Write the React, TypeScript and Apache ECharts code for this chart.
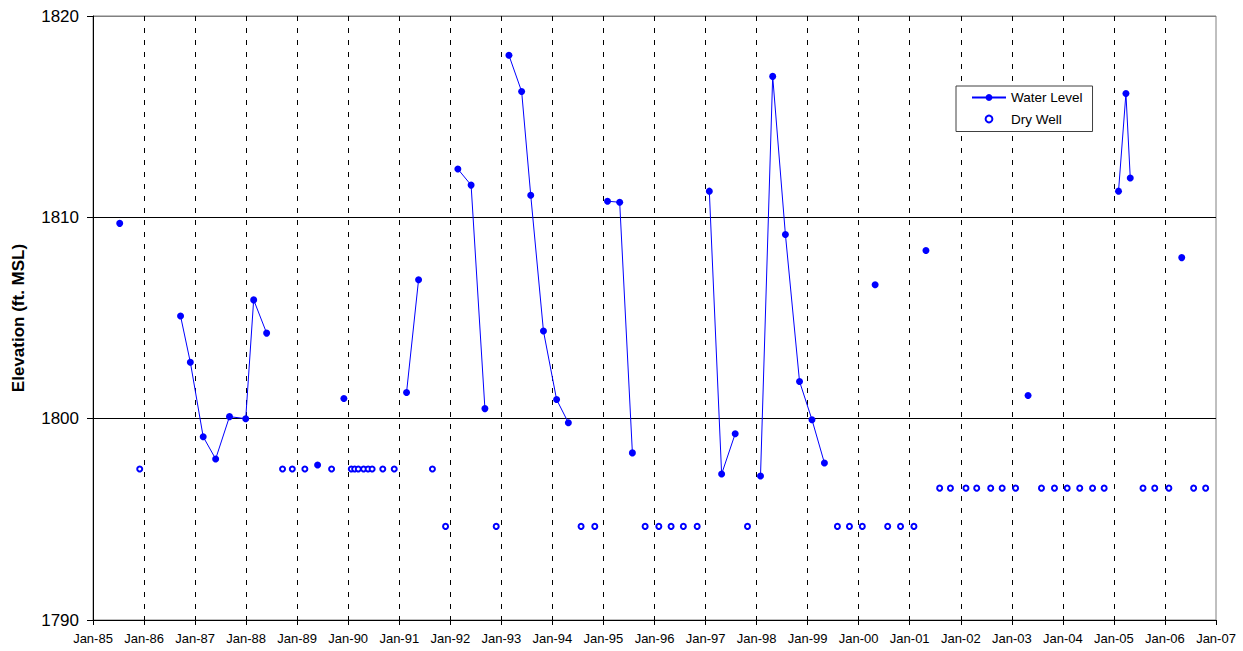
import React, { useEffect, useRef } from "react";
import * as echarts from "echarts";

// Sampling dates (YYYY-MM-DD)
const sampleDates: string[] = [
  "1985-07-11", "1985-12-01", "1986-09-19", "1986-11-28", "1987-02-28", "1987-05-28",
  "1987-09-04", "1987-12-29", "1988-02-24", "1988-05-27", "1988-09-18", "1988-11-27",
  "1989-02-25", "1989-05-27", "1989-09-04", "1989-12-01", "1990-01-23", "1990-02-16",
  "1990-03-14", "1990-04-21", "1990-05-23", "1990-06-21", "1990-09-05", "1990-11-26",
  "1991-02-22", "1991-05-19", "1991-08-26", "1991-11-28", "1992-02-24", "1992-05-29",
  "1992-09-05", "1992-11-25", "1993-02-24", "1993-05-26", "1993-07-30", "1993-10-29",
  "1994-01-31", "1994-04-25", "1994-07-25", "1994-10-31", "1995-01-30", "1995-04-27",
  "1995-07-27", "1995-10-26", "1996-02-01", "1996-04-29", "1996-07-26", "1996-11-02",
  "1997-01-28", "1997-04-26", "1997-08-01", "1997-10-28", "1998-01-29", "1998-04-26",
  "1998-07-26", "1998-11-04", "1999-02-01", "1999-05-01", "1999-08-02", "1999-10-27",
  "2000-01-27", "2000-04-28", "2000-07-27", "2000-10-27", "2001-01-31", "2001-04-27",
  "2001-08-03", "2001-10-19", "2002-02-07", "2002-04-25", "2002-08-03", "2002-10-24",
  "2003-01-28", "2003-04-27", "2003-08-01", "2003-11-02", "2004-02-01", "2004-05-01",
  "2004-08-01", "2004-10-23", "2005-02-03", "2005-03-28", "2005-04-28", "2005-07-28",
  "2005-10-20", "2006-01-29", "2006-05-01", "2006-07-25", "2006-10-19",
];

// Water level elevation (ft. MSL); null where the well was dry
const waterLevel: (number | null)[] = [
  1809.7, null, 1805.1, 1802.8, 1799.1, 1798.0,
  1800.1, 1800.0, 1805.9, 1804.25, null, null,
  null, 1797.7, null, 1801.0, null, null,
  null, null, null, null, null, null,
  1801.3, 1806.9, null, null, 1812.4, 1811.6,
  1800.5, null, 1818.05, 1816.25, 1811.1, 1804.35,
  1800.95, 1799.8, null, null, 1810.8, 1810.75,
  1798.3, null, null, null, null, null,
  1811.3, 1797.25, 1799.25, null, 1797.15, 1817.0,
  1809.15, 1801.85, 1799.95, 1797.8, null, null,
  null, 1806.65, null, null, null, 1808.35,
  null, null, null, null, null, null,
  null, 1801.15, null, null, null, null,
  null, null, 1811.3, 1816.15, 1811.95, null,
  null, null, 1808.0, null, null,
];

// Dry well marker elevation (ft. MSL); null where water was measured
const dryWell: (number | null)[] = [
  null, 1797.5, null, null, null, null,
  null, null, null, null, 1797.5, 1797.5,
  1797.5, null, 1797.5, null, 1797.5, 1797.5,
  1797.5, 1797.5, 1797.5, 1797.5, 1797.5, 1797.5,
  null, null, 1797.5, 1794.65, null, null,
  null, 1794.65, null, null, null, null,
  null, null, 1794.65, 1794.65, null, null,
  null, 1794.65, 1794.65, 1794.65, 1794.65, 1794.65,
  null, null, null, 1794.65, null, null,
  null, null, null, null, 1794.65, 1794.65,
  1794.65, null, 1794.65, 1794.65, 1794.65, null,
  1796.55, 1796.55, 1796.55, 1796.55, 1796.55, 1796.55,
  1796.55, null, 1796.55, 1796.55, 1796.55, 1796.55,
  1796.55, 1796.55, null, null, null, 1796.55,
  1796.55, 1796.55, null, 1796.55, 1796.55,
];

const yTicks = [1790, 1800, 1810, 1820];
const xStartYear = 1985;
const xEndYear = 2007;

const toYear = (s: string): number => {
  const [y, m, d] = s.split("-").map(Number);
  const t = Date.UTC(y, m - 1, d);
  const a = Date.UTC(y, 0, 1);
  const b = Date.UTC(y + 1, 0, 1);
  return y + (t - a) / (b - a);
};

const FONT = "'Liberation Sans', Arial, Helvetica, sans-serif";
const BLUE = "#0000FF";

export default function App() {
  const ref = useRef<HTMLDivElement>(null);

  useEffect(() => {
    if (!ref.current) return;
    const chart = echarts.init(ref.current, undefined, { renderer: "svg" });

    const wlData = sampleDates.map((d, i) => [toYear(d), waterLevel[i] == null ? "-" : waterLevel[i]]);
    const dwData = sampleDates.map((d, i) => [toYear(d), dryWell[i] == null ? "-" : dryWell[i]]);

    const nYears = xEndYear - xStartYear + 1;
    const vColors = Array.from({ length: nYears }, (_, i) =>
      i === nYears - 1 ? "rgba(0,0,0,0)" : "#000000"
    );

    chart.setOption({
      animation: false,
      backgroundColor: "#ffffff",
      textStyle: { fontFamily: FONT },
      grid: {
        left: 93,
        right: 27,
        top: 16,
        bottom: 31,
        show: true,
        borderColor: "#808080",
        borderWidth: 1,
        backgroundColor: "transparent",
      },
      legend: {
        orient: "vertical",
        left: 956,
        top: 86,
        padding: [4.5, 10, 5.5, 15],
        itemWidth: 34,
        itemHeight: 8.5,
        itemGap: 7.5,
        backgroundColor: "#ffffff",
        borderColor: "#404040",
        borderWidth: 1,
        borderRadius: 0,
        textStyle: { fontSize: 13.5, color: "#000", fontFamily: FONT },
        data: ["Water Level", "Dry Well"],
      },
      xAxis: {
        type: "value",
        min: xStartYear,
        max: xEndYear,
        interval: 1,
        axisLine: { show: true, onZero: false, lineStyle: { color: "#000", width: 1 } },
        axisTick: { show: true, inside: false, length: 5, lineStyle: { color: "#000" } },
        axisLabel: {
          show: true,
          margin: 12,
          fontSize: 13,
          color: "#000",
          fontFamily: FONT,
          formatter: (v: number) => "Jan-" + String(Math.round(v) % 100).padStart(2, "0"),
        },
        splitLine: {
          show: true,
          lineStyle: { color: vColors, width: 1, type: [5, 7] },
        },
      },
      yAxis: {
        type: "value",
        min: yTicks[0],
        max: yTicks[yTicks.length - 1],
        interval: 10,
        name: "Elevation (ft. MSL)",
        nameLocation: "middle",
        nameRotate: 90,
        nameGap: 66,
        nameTextStyle: { fontSize: 17, fontWeight: "bold", color: "#000", fontFamily: FONT },
        axisLine: { show: true, lineStyle: { color: "#000", width: 1 } },
        axisTick: { show: true, inside: false, length: 6, lineStyle: { color: "#000" } },
        axisLabel: {
          margin: 14,
          fontSize: 17,
          color: "#000",
          fontFamily: FONT,
          formatter: (v: number) => String(v),
        },
        splitLine: {
          show: true,
          lineStyle: { color: ["#000000", "#000000", "#000000", "#808080"], width: 1, type: "solid" },
        },
      },
      series: [
        {
          name: "Water Level",
          type: "line",
          data: wlData,
          connectNulls: false,
          symbol: "circle",
          symbolSize: 7,
          showSymbol: true,
          lineStyle: { color: BLUE, width: 1 },
          itemStyle: { color: BLUE, borderWidth: 0 },
          emphasis: { disabled: true },
          z: 3,
        },
        {
          name: "Dry Well",
          type: "line",
          data: dwData,
          connectNulls: false,
          symbol: "emptyCircle",
          symbolSize: 5,
          showSymbol: true,
          lineStyle: { color: BLUE, width: 0, opacity: 0 },
          itemStyle: { color: BLUE, borderColor: BLUE, borderWidth: 1.6 },
          emphasis: { disabled: true },
          z: 2,
        },
      ],
    });

    return () => {
      chart.dispose();
    };
  }, []);

  return (
    <div
      ref={ref}
      style={{ position: "fixed", left: 0, top: 0, width: 1243, height: 651, background: "#fff" }}
    />
  );
}
